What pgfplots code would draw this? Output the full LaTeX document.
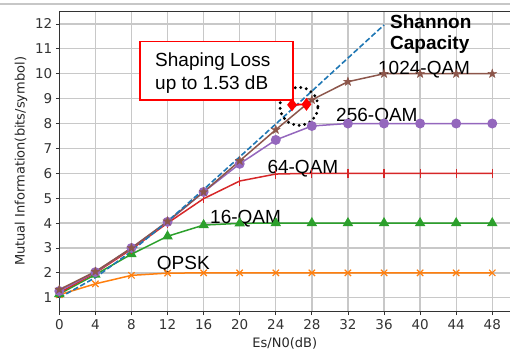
\documentclass[border=0pt]{standalone}
\usepackage{fontspec}
\setmainfont{DejaVu Sans}
\newfontfamily\arial{Liberation Sans}
\usepackage{pgfplots}
\pgfplotsset{compat=1.18}
\definecolor{tabblue}{HTML}{1F77B4}
\definecolor{taborange}{HTML}{FF7F0E}
\definecolor{tabgreen}{HTML}{2CA02C}
\definecolor{tabred}{HTML}{D62728}
\definecolor{tabpurple}{HTML}{9467BD}
\definecolor{tabbrown}{HTML}{8C564B}
\definecolor{gridgray}{HTML}{C8C8C8}
\pgfdeclareplotmark{fstar}{%
  \pgfpathmoveto{\pgfqpoint{0bp}{4.6bp}}%
  \pgfpathlineto{\pgfqpoint{1.08bp}{1.49bp}}%
  \pgfpathlineto{\pgfqpoint{4.37bp}{1.42bp}}%
  \pgfpathlineto{\pgfqpoint{1.75bp}{-0.57bp}}%
  \pgfpathlineto{\pgfqpoint{2.70bp}{-3.72bp}}%
  \pgfpathlineto{\pgfqpoint{0bp}{-1.84bp}}%
  \pgfpathlineto{\pgfqpoint{-2.70bp}{-3.72bp}}%
  \pgfpathlineto{\pgfqpoint{-1.75bp}{-0.57bp}}%
  \pgfpathlineto{\pgfqpoint{-4.37bp}{1.42bp}}%
  \pgfpathlineto{\pgfqpoint{-1.08bp}{1.49bp}}%
  \pgfpathclose
  \pgfusepathqfillstroke}
\begin{document}
\begin{tikzpicture}
\begin{axis}[
  at={(0,0)}, anchor=origin,
  scale only axis, width=451bp, height=300.7bp,
  xmin=0, xmax=50, ymin=0.44, ymax=12.52,
  xtick={0,4,...,48}, ytick={1,2,...,12},
  separate axis lines,
  axis x line*=box, axis y line*=left,
  axis line style={black!80, line width=0.9bp},
  tick align=outside, tick pos=left,
  major tick length=3.5bp,
  tick style={black!80, line width=0.8bp},
  grid=major,
  major grid style={gridgray, line width=1.3bp},
  /pgf/number format/assume math mode=true,
  ticklabel style={font=\fontsize{13.5bp}{16bp}\selectfont, text=black!80},
  xticklabel style={yshift=-1bp},
  xlabel={Es/N0(dB)},
  ylabel={Mutual Information(bits/symbol)},
  xlabel style={font=\fontsize{13bp}{15bp}\selectfont, text=black!85, at={(axis description cs:0.5,-0.107)}, anchor=center},
  ylabel style={font=\fontsize{13bp}{15bp}\selectfont, text=black!85, at={(axis description cs:-0.0849,0.5)}, anchor=center, rotate=0},
  clip=false,
]
\addplot[taborange, line width=1.5bp, mark=x, mark size=4.5bp, mark options={line width=1.2bp}] coordinates {
 (0,1.12)(4,1.56)(8,1.9)(12,1.99)(16,2)(20,2)(24,2)(28,2)(32,2)(36,2)(40,2)(44,2)(48,2)};
\addplot[tabgreen, line width=1.5bp, mark=triangle*, mark size=4.6bp] coordinates {
 (0,1.15)(4,1.93)(8,2.75)(12,3.47)(16,3.92)(20,3.99)(24,4)(28,4)(32,4)(36,4)(40,4)(44,4)(48,4)};
\addplot[tabred, line width=1.5bp, mark=|, mark size=4.5bp, mark options={line width=1.2bp}] coordinates {
 (0,1.2)(4,2.0)(8,2.95)(12,4.0)(16,4.98)(20,5.69)(24,5.97)(28,6)(32,6)(36,6)(40,6)(44,6)(48,6)};
\addplot[tabpurple, line width=1.5bp, mark=*, mark size=4.2bp] coordinates {
 (0,1.27)(4,2.03)(8,3.0)(12,4.05)(16,5.25)(20,6.38)(24,7.34)(28,7.9)(32,8.0)(36,8)(40,8)(44,8)(48,8)};
\addplot[tabbrown, line width=1.5bp, mark=fstar, mark options={line width=0.4bp}] coordinates {
 (0,1.33)(4,2.05)(8,3.0)(12,4.07)(16,5.25)(20,6.5)(24,7.75)(28,8.95)(32,9.68)(36,10)(40,10)(44,10)(48,10)};
\addplot[tabblue, line width=1.6bp, dash pattern=on 5.5bp off 2.5bp, no marks] coordinates {
 (0,1.0)(4,1.81)(8,2.87)(12,4.07)(16,5.35)(20,6.66)(24,7.98)(28,9.30)(32,10.63)(36,11.96)};
\addplot[red, line width=1.8bp, mark=diamond*, mark size=5bp] coordinates {(25.8,8.75)(27.4,8.77)};
\draw[black, line width=3.2bp, dash pattern=on 0bp off 5.6bp, line cap=round] (axis cs:26.57,8.69) circle[radius=19bp];
\draw[red, line width=1.6bp, fill=white] (axis cs:8.95,11.29) rectangle (axis cs:25.91,8.95);
\node[anchor=base west, inner sep=0, font=\arial\fontsize{19bp}{22bp}\selectfont] at (axis cs:10.61,10.28) {Shaping Loss};
\node[anchor=base west, inner sep=0, font=\arial\fontsize{19bp}{22bp}\selectfont] at (axis cs:10.61,9.38) {up to 1.53 dB};
\node[anchor=base west, inner sep=0, font=\arial\bfseries\fontsize{19bp}{22bp}\selectfont] at (axis cs:36.66,11.815) {Shannon};
\node[anchor=base west, inner sep=0, font=\arial\bfseries\fontsize{19bp}{22bp}\selectfont] at (axis cs:36.66,10.97) {Capacity};
\node[anchor=base west, inner sep=0, font=\arial\fontsize{19bp}{22bp}\selectfont] at (axis cs:35.33,9.95) {1024-QAM};
\node[anchor=base west, inner sep=0, font=\arial\fontsize{19bp}{22bp}\selectfont] at (axis cs:30.68,8.08) {256-QAM};
\node[anchor=base west, inner sep=0, font=\arial\fontsize{19bp}{22bp}\selectfont] at (axis cs:23.06,5.99) {64-QAM};
\node[anchor=base west, inner sep=0, font=\arial\fontsize{19bp}{22bp}\selectfont] at (axis cs:16.71,3.99) {16-QAM};
\node[anchor=base west, inner sep=0, font=\arial\fontsize{19bp}{22bp}\selectfont] at (axis cs:10.8,2.14) {QPSK};
\end{axis}
\draw[black!22, line width=2.3bp] (-59.3bp,307.9bp) -- (450.7bp,307.9bp);
\pgfresetboundingbox
\useasboundingbox (-59.3bp,-42.3bp) rectangle (450.7bp,311.7bp);
\end{tikzpicture}
\end{document}
